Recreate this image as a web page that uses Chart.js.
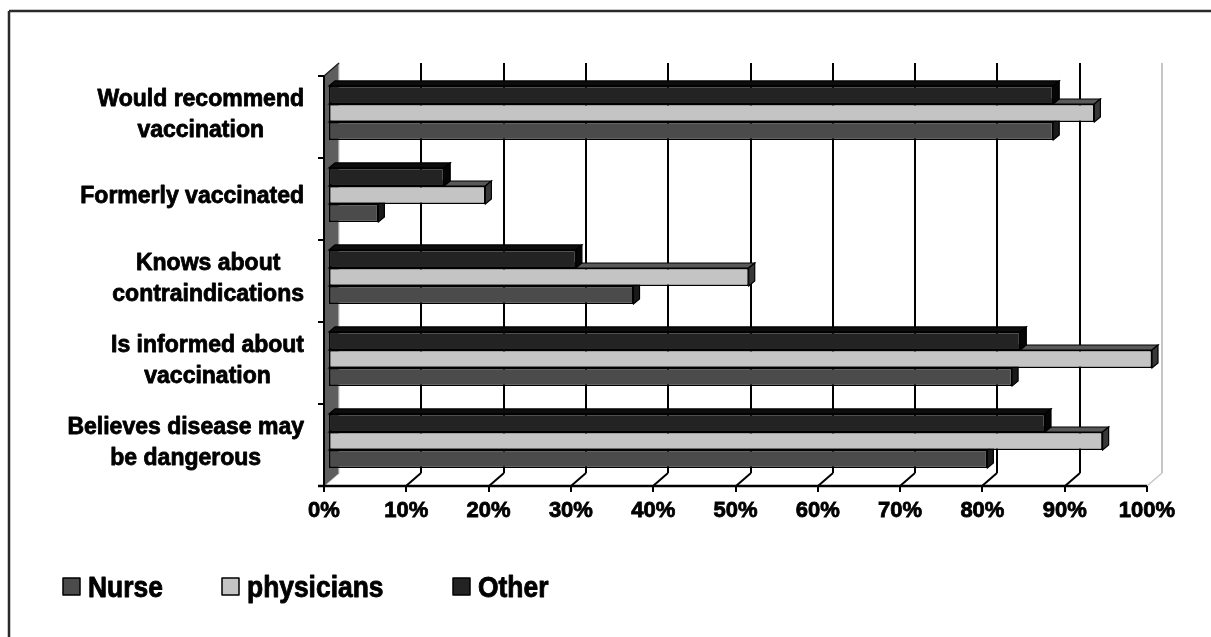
<!DOCTYPE html>
<html>
<head>
<meta charset="utf-8">
<script src="https://cdn.jsdelivr.net/npm/chart.js@4.4.1/dist/chart.umd.min.js"></script>
<style>
  html, body { margin:0; padding:0; background:#fff; }
  #chart { display:block; }
</style>
</head>
<body>
<canvas id="chart" width="1211" height="637"></canvas>
<script>
/* ── data (categories listed top to bottom) ── */
const CATEGORIES = [
  ['Would recommend', 'vaccination'],
  ['Formerly vaccinated'],
  ['Knows about', 'contraindications'],
  ['Is informed about', 'vaccination'],
  ['Believes disease may', 'be dangerous']
];
const NURSE      = [88, 6, 37, 83, 80];
const PHYSICIANS = [93, 19, 51, 100, 94];
const OTHER      = [88, 14, 30, 84, 87];
const LEGEND_ORDER = ['Nurse', 'physicians', 'Other'];

/* ── fake 3D offsets relative to the bar front plane ── */
const FX = -5, FY = 4;      // front axis plane
const BX = 10, BY = -9;     // back wall
const DX = 6,  DY = -5;     // bar depth
const FONT = '"Liberation Sans", Arial, sans-serif';

function poly(ctx, pts, fill, stroke, lw) {
  ctx.beginPath();
  ctx.moveTo(pts[0][0], pts[0][1]);
  for (let i = 1; i < pts.length; i++) ctx.lineTo(pts[i][0], pts[i][1]);
  ctx.closePath();
  if (fill) { ctx.fillStyle = fill; ctx.fill(); }
  if (stroke) { ctx.strokeStyle = stroke; ctx.lineWidth = lw || 1; ctx.stroke(); }
}
function line(ctx, x1, y1, x2, y2, color, lw) {
  ctx.beginPath();
  ctx.moveTo(x1, y1); ctx.lineTo(x2, y2);
  ctx.strokeStyle = color; ctx.lineWidth = lw; ctx.stroke();
}
// heavy text: fill plus a thin stroke
function heavyText(ctx, s, x, y, sw) {
  ctx.lineWidth = sw; ctx.strokeStyle = '#000'; ctx.lineJoin = 'round';
  ctx.strokeText(s, x, y);
  ctx.fillText(s, x, y);
}

const pseudo3d = {
  id: 'pseudo3d',
  beforeDraw(chart) {
    const ctx = chart.ctx;
    ctx.save();
    ctx.fillStyle = '#fff';
    ctx.fillRect(0, 0, chart.width, chart.height);
    // frame (top + left only)
    line(ctx, 9, 11, chart.width, 11, '#2a2a2a', 2.5);
    line(ctx, 9, 11, 9, chart.height, '#2a2a2a', 2.5);
    ctx.restore();
  },
  beforeDatasetsDraw(chart) {
    const ctx = chart.ctx, a = chart.chartArea;
    const xs = chart.scales.x, ys = chart.scales.y;
    ctx.save();
    ctx.lineCap = 'butt';

    // back wall grid + floor diagonals
    xs.ticks.forEach(t => {
      const p = Math.round(xs.getPixelForValue(t.value));
      const edge = (t.value === 0 || t.value === 100);
      const col = edge ? '#c6c6c6' : '#000';
      if (t.value !== 0) line(ctx, p + BX, a.top + BY, p + BX, a.bottom + BY, col, 2);
      line(ctx, p + BX, a.bottom + BY, p + FX, a.bottom + FY, col, edge ? 1.5 : 2);
    });

    // left wall
    poly(ctx, [
      [a.left + FX, a.top + FY], [a.left + BX, a.top + BY],
      [a.left + BX, a.bottom + BY], [a.left + FX, a.bottom + FY]
    ], '#5e5e5e');
    line(ctx, a.left + BX, a.top + BY, a.left + BX, a.bottom + BY, '#d0d0d0', 1.2);
    line(ctx, a.left + FX, a.top + FY, a.left + BX, a.top + BY, '#222', 1.5);

    // front axes
    const band = ys.getPixelForValue(1) - ys.getPixelForValue(0);
    line(ctx, a.left + FX, a.top + FY, a.left + FX, a.bottom + FY, '#000', 2);
    for (let i = 0; i <= CATEGORIES.length; i++) {
      const b = ys.getPixelForValue(0) - band / 2 + i * band + FY;
      line(ctx, a.left + FX - 6, b, a.left + FX, b, '#000', 2);
    }
    line(ctx, a.left + FX - 6, a.bottom + FY, xs.getPixelForValue(100) + FX, a.bottom + FY, '#000', 2.5);
    xs.ticks.forEach(t => {
      const p = Math.round(xs.getPixelForValue(t.value)) + FX;
      line(ctx, p, a.bottom + FY, p, a.bottom + FY + 6, '#000', 2);
    });

    // bar depth faces: all tops first, then all sides
    const metas = chart.getSortedVisibleDatasetMetas();
    const bars = [];
    metas.forEach(m => {
      const ds = chart.data.datasets[m.index];
      m.data.forEach(el => {
        const p = el.getProps(['x', 'y', 'base', 'height'], true);
        bars.push({ x: p.x, base: p.base, top: p.y - p.height / 2, bot: p.y + p.height / 2, ds });
      });
    });
    bars.forEach(b => poly(ctx, [
      [b.base, b.top], [b.x, b.top], [b.x + DX, b.top + DY], [b.base + DX, b.top + DY]
    ], b.ds.topColor, '#000', 1.2));
    bars.forEach(b => poly(ctx, [
      [b.x, b.top], [b.x + DX, b.top + DY], [b.x + DX, b.bot + DY], [b.x, b.bot]
    ], b.ds.sideColor, '#000', 1.2));
    ctx.restore();
  },
  afterDatasetsDraw(chart) {
    const ctx = chart.ctx, a = chart.chartArea, ys = chart.scales.y;
    ctx.save();
    ctx.fillStyle = '#000';

    // category labels: block right aligned, lines centred in block
    ctx.font = 'bold 23px ' + FONT;
    ctx.textAlign = 'center';
    ctx.textBaseline = 'middle';
    const right = a.left + FX - 20;
    chart.data.labels.forEach((lab, i) => {
      const lines = Array.isArray(lab) ? lab : [lab];
      const w = Math.max(...lines.map(s => ctx.measureText(s).width));
      const cx = right - w / 2;
      const cy = ys.getPixelForValue(i) + 2;
      lines.forEach((s, j) => heavyText(ctx, s, cx, cy + (j - (lines.length - 1) / 2) * 31, 0.8));
    });

    // legend
    const LEGEND_X = [63, 222, 453];
    ctx.textAlign = 'left';
    ctx.textBaseline = 'alphabetic';
    ctx.font = 'bold 30px ' + FONT;
    LEGEND_ORDER.forEach((name, k) => {
      const ds = chart.data.datasets.find(d => d.label === name);
      const x0 = LEGEND_X[k];
      ctx.fillStyle = ds.backgroundColor;
      ctx.fillRect(x0, 578, 17, 17);
      ctx.strokeStyle = '#000'; ctx.lineWidth = 1.5;
      ctx.strokeRect(x0, 578, 17, 17);
      ctx.save();
      ctx.translate(x0 + 25, 597);
      ctx.scale(0.88, 1);
      ctx.fillStyle = '#000';
      heavyText(ctx, name, 0, 0, 0.9);
      ctx.restore();
    });
    ctx.restore();
  }
};

const ctx = document.getElementById('chart').getContext('2d');
new Chart(ctx, {
  type: 'bar',
  data: {
    labels: CATEGORIES,
    datasets: [
      { label:'Other',      data:OTHER,      backgroundColor:'#232323', topColor:'#0c0c0c', sideColor:'#050505' },
      { label:'physicians', data:PHYSICIANS, backgroundColor:'#c4c4c4', topColor:'#595959', sideColor:'#383838' },
      { label:'Nurse',      data:NURSE,      backgroundColor:'#4b4b4b', topColor:'#2e2e2e', sideColor:'#1a1a1a' }
    ].map(d => ({ ...d, borderColor:'#000', borderWidth:1.5, borderSkipped:false,
                  categoryPercentage:0.66, barPercentage:1 }))
  },
  options: {
    indexAxis: 'y',
    responsive: false,
    animation: false,
    devicePixelRatio: 1,
    layout: { padding: { left:0, right:59, top:72, bottom:0 } },
    plugins: { legend:{ display:false }, tooltip:{ enabled:false } },
    scales: {
      x: {
        min: 0, max: 100,
        grid: { display:false, drawTicks:false },
        border: { display:false },
        ticks: { stepSize:10, callback: v => v + '%', color:'#000', padding:16, labelOffset:FX,
                 textStrokeColor:'#000', textStrokeWidth:0.8,
                 font: { family:'"Liberation Sans", Arial, sans-serif', size:22, weight:'bold' } },
        afterFit: s => { s.height = 155; }
      },
      y: {
        offset: true,
        grid: { display:false, drawTicks:false },
        border: { display:false },
        ticks: { display:false },
        afterFit: s => { s.width = 329; }
      }
    }
  },
  plugins: [pseudo3d]
});
</script>
</body>
</html>
